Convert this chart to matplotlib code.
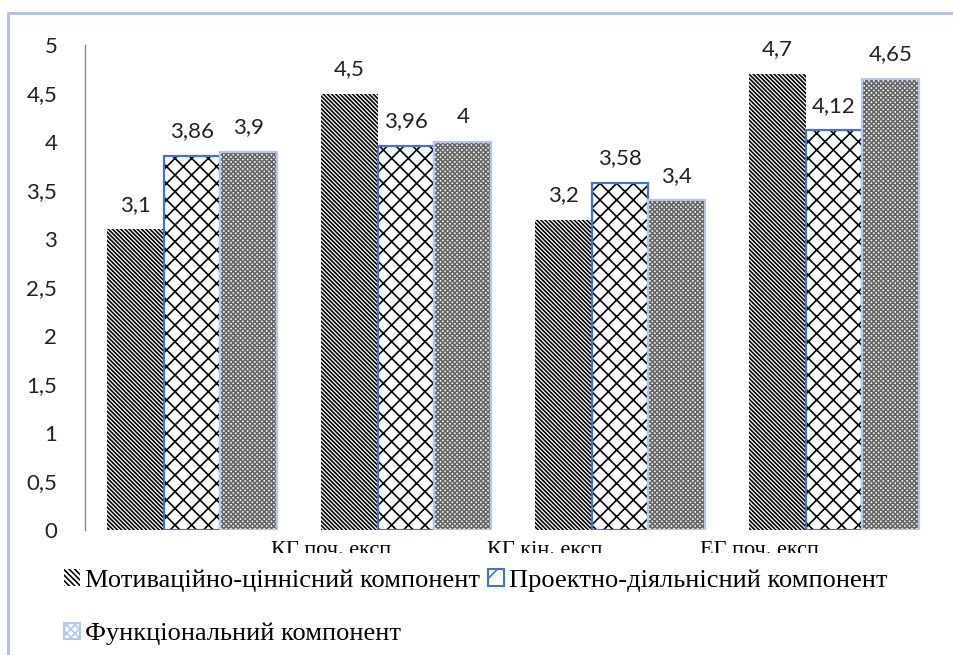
import matplotlib.pyplot as plt
from matplotlib.patches import Patch, Rectangle
from matplotlib.transforms import Bbox
import numpy as np

groups = ["КГ поч. експ", "КГ кін. експ", "ЕГ поч. експ", "ЕГ кін. експ"]
series_names = ["Мотиваційно-ціннісний компонент",
                "Проектно-діяльнісний компонент",
                "Функціональний компонент"]
motyv = [3.1, 4.5, 3.2, 4.7]
proekt = [3.86, 3.96, 3.58, 4.12]
funk = [3.9, 4.0, 3.4, 4.65]
y_ticks = [0, 0.5, 1, 1.5, 2, 2.5, 3, 3.5, 4, 4.5, 5]

plt.rcParams['hatch.linewidth'] = 1.2

W, H = 954, 655
fig = plt.figure(figsize=(W / 100, H / 100), dpi=100)
ax = fig.add_axes([85 / W, (H - 530) / H, (941 - 85) / W, (530 - 45) / H])

# стиль кожного ряду: штрихування, колір штриха, колір рамки
styles = [
    dict(hatch='\\' * 8, hc='black', ec='none'),
    dict(hatch='xx', hc='black', ec='#4472c4'),
    dict(hatch='x' * 7, hc='#666666', ec='#b4c7e7'),
]

x = np.arange(len(groups))
bw = 0.266
num_font = 'Lato'
for i, (vals, st) in enumerate(zip([motyv, proekt, funk], styles)):
    pos = x + (i - 1) * bw
    ax.bar(pos, vals, bw, color='white', edgecolor=st['hc'], linewidth=0,
           hatch=st['hatch'])
    if st['ec'] != 'none':
        ax.bar(pos, vals, bw, fill=False, edgecolor=st['ec'], linewidth=1.6)
    for p, v in zip(pos, vals):
        ax.text(p, v + 0.15, f"{v:g}".replace('.', ','), ha='center',
                va='bottom', fontsize=16, family=num_font, color='#222222')

ax.set_xlim(-0.5, 3.5)
ax.set_ylim(0, 5)
ax.set_yticks(y_ticks)
ax.set_yticklabels([f"{t:g}".replace('.', ',') for t in y_ticks],
                   fontsize=16, family=num_font, color='#222222')
ax.tick_params(axis='y', length=0, pad=20)
ax.set_xticks([])
for s in ['top', 'right', 'bottom']:
    ax.spines[s].set_visible(False)
ax.spines['left'].set_color('#868686')
ax.spines['left'].set_linewidth(1)

# підписи категорій зсунуті вправо й обрізані знизу
clip = Bbox.from_extents(0, 102, W, H)
for i, g in enumerate(groups):
    xpos = i + 0.65
    if xpos > 3.5:
        continue
    t = ax.text(xpos, -0.022, g, transform=ax.get_xaxis_transform(),
                ha='center', va='top', fontsize=16, family='Liberation Serif')
    t.set_clip_box(clip)
    t.set_clip_on(True)

handles = [
    Patch(facecolor='white', edgecolor='black', hatch='\\' * 6, linewidth=0),
    Patch(facecolor='white', edgecolor='#4472c4', hatch='x', linewidth=1.5),
    Patch(facecolor='white', edgecolor='#b4c7e7', hatch='xxxx', linewidth=1.5),
]
order = [0, 2, 1]
fig.legend([handles[k] for k in order], [series_names[k] for k in order],
           ncol=2, loc='upper left', bbox_to_anchor=(64 / W, (H - 569) / H),
           frameon=False, prop={'family': 'Liberation Serif', 'size': 19},
           handlelength=0.6, handleheight=0.6, handletextpad=0.2,
           columnspacing=0.3, labelspacing=1.17, borderpad=0,
           borderaxespad=0)

# рамка області діаграми
fig.add_artist(Rectangle((8 / W, -0.1), 1.2, (H - 13) / H + 0.1,
                         transform=fig.transFigure, fill=False,
                         edgecolor='#a9c0e8', linewidth=2))

fig.savefig('out.png', dpi=100)
